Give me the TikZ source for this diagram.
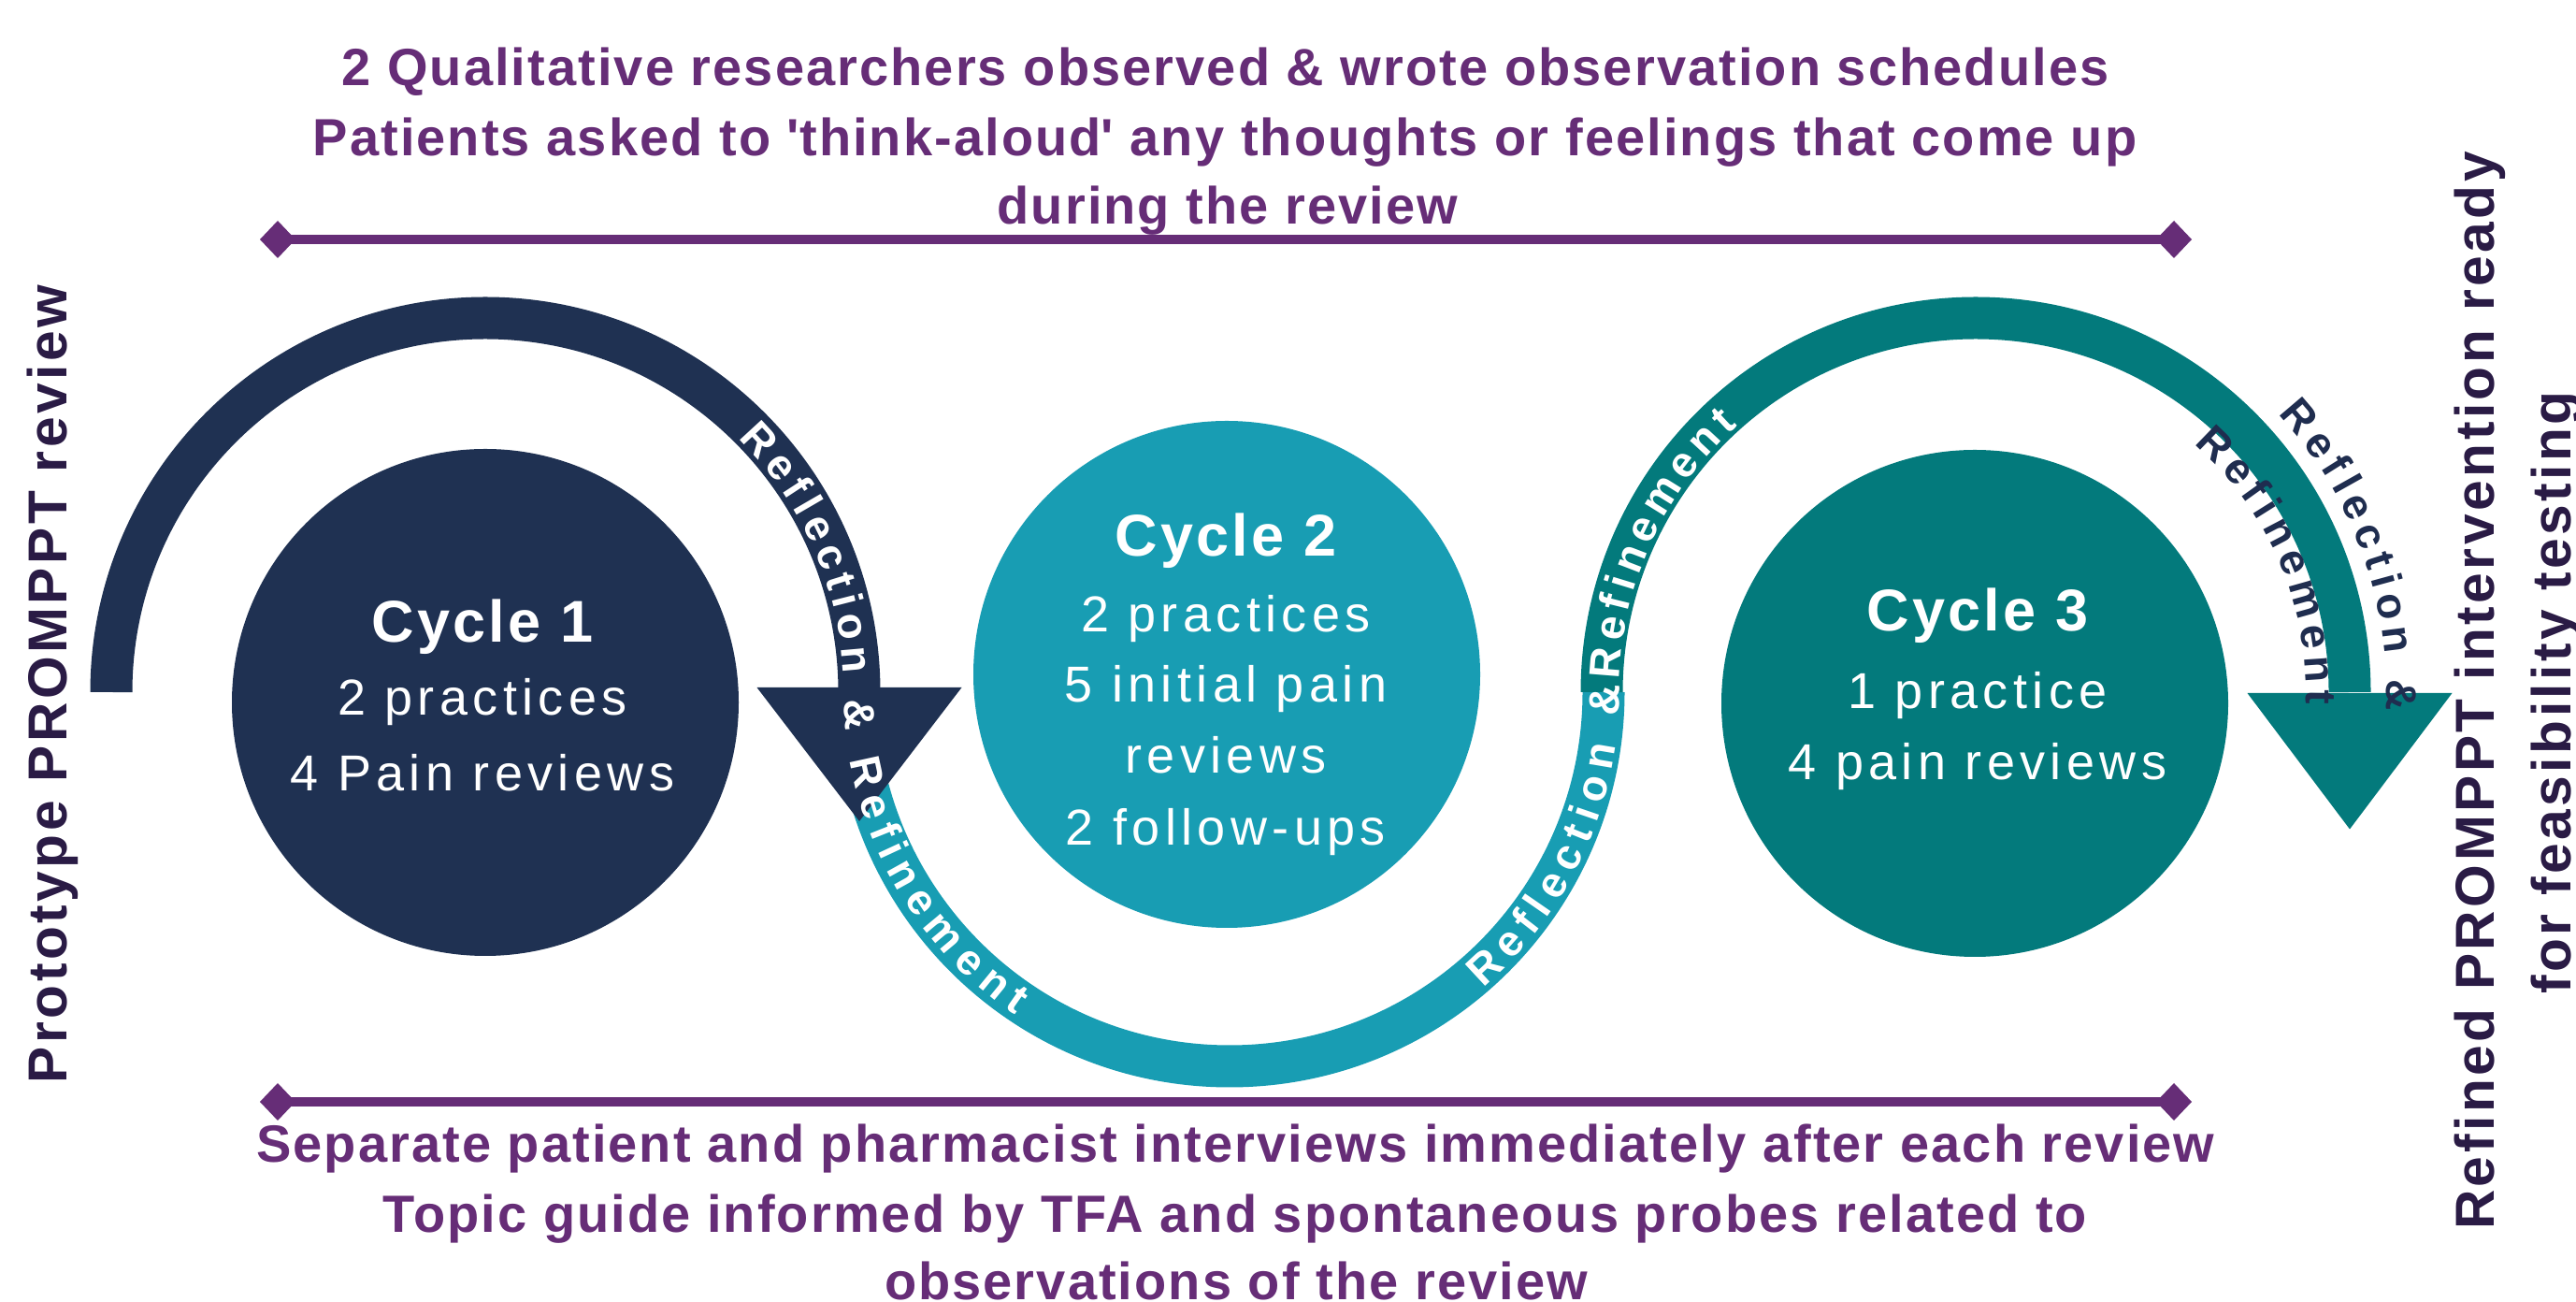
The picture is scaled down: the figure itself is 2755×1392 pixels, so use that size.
\documentclass[tikz,border=0pt]{standalone}
\usepackage{fontspec}
\setmainfont{Liberation Sans}
\usetikzlibrary{arrows.meta,decorations.text}
\newfontfamily\notefam{Liberation Sans}[LetterSpace=3.7]
\newfontfamily\bodyfam{Liberation Sans}[LetterSpace=10]
\newfontfamily\titlefam{Liberation Sans}[LetterSpace=5]
\newfontfamily\sidefam{Liberation Sans}[LetterSpace=6]
\newcommand\arcsel{\bfseries\fontsize{46}{46}\selectfont}
\definecolor{navy}{RGB}{31,49,82}
\definecolor{ltteal}{RGB}{24,157,179}
\definecolor{deepteal}{RGB}{3,122,124}
\definecolor{plum}{RGB}{102,45,119}
\definecolor{inkdark}{RGB}{42,27,69}
\definecolor{arcink}{RGB}{31,45,79}
\begin{document}
\begin{tikzpicture}[x=1pt,y=1pt,
  bandline/.style={line width=45pt, line cap=butt},
  barline/.style={plum, line width=10pt,
    {Diamond[length=38pt,width=40pt]}-{Diamond[length=38pt,width=40pt]}},
  cyclebox/.style={circle, minimum size=542pt, inner sep=0pt},
  titletext/.style={text=white, anchor=base, inner sep=0pt,
    font=\titlefam\bfseries\fontsize{63}{63}\selectfont},
  bodytext/.style={text=white, anchor=base, inner sep=0pt,
    font=\bodyfam\fontsize{54}{54}\selectfont},
  notetext/.style={text=plum, anchor=base, inner sep=0pt,
    font=\notefam\bfseries\fontsize{56}{56}\selectfont},
  sidetext/.style={text=inkdark, anchor=base, inner sep=0pt, rotate=90,
    font=\sidefam\bfseries\fontsize{58.7}{58.7}\selectfont},
  arctext/.style={decorate, decoration={text along path,
    text align=fit to path, raise=-16.5pt, text color=#1}},
]
\useasboundingbox (0,0) rectangle (2755,1392);
\fill[white] (0,0) rectangle (2755,1392);

% centres of the three arcs
\coordinate (A1) at (519,652);
\coordinate (A2) at (1315,652);
\coordinate (A3) at (2113,652);

% lower arc between cycle 1 and cycle 3
\draw[bandline, ltteal] ([shift={(180:400pt)}]A2)
  arc[start angle=180, end angle=360, radius=400pt];
% upper arc over cycle 3 with its arrowhead
\draw[bandline, deepteal] ([shift={(180:400pt)}]A3)
  arc[start angle=180, end angle=0, radius=400pt] coordinate (end3);
\fill[deepteal] (end3) ++(-109.5,-1) -- ++(219,0) -- ++(-109.5,-145.5) -- cycle;
% upper arc over cycle 1 with its arrowhead
\draw[bandline, navy] ([shift={(180:400pt)}]A1)
  arc[start angle=180, end angle=0, radius=400pt] coordinate (end1);
\fill[navy] (end1) ++(-109.5,5) -- ++(219,0) -- ++(-109.5,-143) -- cycle;

% the three cycles
\node[cyclebox, fill=navy] (cyc1) at (519,641) {};
\node[cyclebox, fill=ltteal] (cyc2) at (1312,671) {};
\node[cyclebox, fill=deepteal] (cyc3) at (2112,640) {};

\node[titletext] (c1t) at (516,705) {Cycle 1};
\node[bodytext] (c1a) at (516,627) {2 practices};
\node[bodytext] (c1b) at (516,546) {4 Pain reviews};

\node[titletext] (c2t) at (1311,797) {Cycle 2};
\node[bodytext] (c2a) at (1311,716) {2 practices};
\node[bodytext] (c2b) at (1311,641) {5 initial pain};
\node[bodytext] (c2c) at (1311,565) {reviews};
\node[bodytext] (c2d) at (1311,488) {2 follow-ups};

\node[titletext] (c3t) at (2115,717) {Cycle 3};
\node[bodytext] (c3a) at (2115,634) {1 practice};
\node[bodytext] (c3b) at (2115,558) {4 pain reviews};

% labels running along the arcs
\path[arctext=white, decoration={text={|\arcsel|Reflection {\&} Refinement}}]
  ([shift={(45:400pt)}]A1) arc[start angle=45, end angle=0, radius=400pt]
  arc[start angle=180, end angle=236, radius=400pt];
\path[arctext=white, decoration={text={|\arcsel|Reflection {\&}Refinement}}]
  ([shift={(310.5:400pt)}]A2) arc[start angle=310.5, end angle=360, radius=400pt]
  arc[start angle=180, end angle=132, radius=400pt];
\path[arctext=arcink, decoration={text={|\arcsel|Reflection {\&}}}]
  ([shift={(42.5:456pt)}]A3) arc[start angle=42.5, end angle=-2.5, radius=456pt];
\path[arctext=arcink, decoration={text={|\arcsel|Refinement}}]
  ([shift={(48.5:370pt)}]A3) arc[start angle=48.5, end angle=-2, radius=370pt];

% observation and interview bars
\coordinate (tl) at (278,1136);
\coordinate (tr) at (2344,1136);
\coordinate (bl) at (278,214);
\coordinate (br) at (2344,214);
\draw[barline] (tl) -- (tr);
\draw[barline] (bl) -- (br);

\node[notetext] (n1) at (1310.5,1300) {2 Qualitative researchers observed \& wrote observation schedules};
\node[notetext] (n2) at (1310,1225) {Patients asked to \textquotesingle think-aloud\textquotesingle\ any thoughts or feelings that come up};
\node[notetext] (n3) at (1313,1152) {during the review};
\node[notetext] (s1) at (1321.5,149) {Separate patient and pharmacist interviews immediately after each review};
\node[notetext] (s2) at (1321,74) {Topic guide informed by TFA and spontaneous probes related to};
\node[notetext] (s3) at (1322,2) {observations of the review};

% start and end labels
\node[sidetext] (proto) at (71,660.5) {Prototype PROMPPT review};
\node[sidetext] (ref1) at (2667,653.4) {Refined PROMPPT intervention ready};
\node[sidetext] (ref2) at (2749,651.5) {for feasibility testing};
\end{tikzpicture}
\end{document}
